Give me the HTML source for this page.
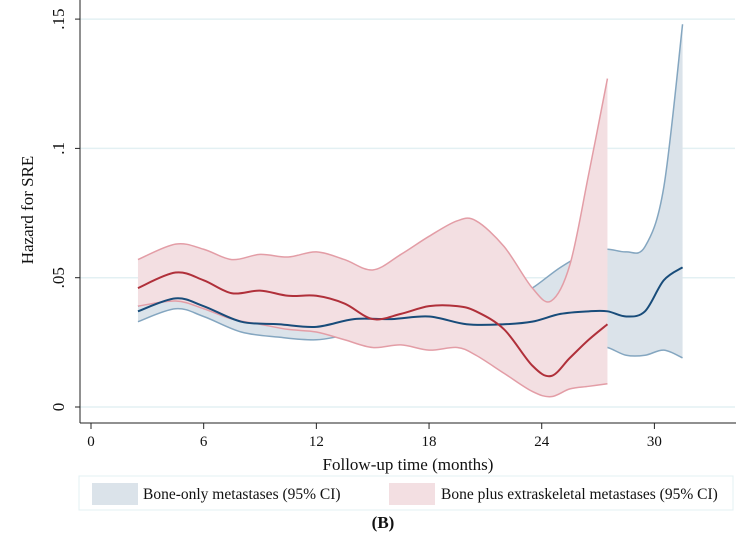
<!DOCTYPE html>
<html><head><meta charset="utf-8"><style>
body{margin:0;background:#fff;font-family:"Liberation Serif",serif}
svg text{font-family:"Liberation Serif",serif;fill:#111}
</style></head><body>
<svg id="c" width="747" height="541"></svg>
<script>
const ticksX=[0,6,12,18,24,30];
const ticksY=[0,0.05,0.1,0.15];
const tickYLabels=["0",".05",".1",".15"];
const blueT=[2.5,4.5,6,8,10,12,14,16,18,20,22,23.5,25,26.5,27.5,28.5,29.5,30.5,31.5];
const blueMean=[0.037,0.042,0.039,0.033,0.032,0.031,0.034,0.034,0.035,0.032,0.032,0.033,0.036,0.037,0.037,0.035,0.037,0.049,0.054];
const blueUp=[0.039,0.043,0.041,0.035,0.034,0.033,0.035,0.036,0.037,0.036,0.040,0.046,0.054,0.060,0.061,0.060,0.062,0.085,0.148];
const blueLo=[0.033,0.038,0.035,0.029,0.027,0.026,0.028,0.027,0.027,0.026,0.026,0.026,0.025,0.024,0.023,0.020,0.020,0.022,0.019];
const redT=[2.5,4.5,6,7.5,9,10.5,12,13.5,15,16.5,18,19.5,20.5,22,23.5,24.5,25.5,26.5,27.5];
const redMean=[0.046,0.052,0.049,0.044,0.045,0.043,0.043,0.040,0.034,0.036,0.039,0.039,0.037,0.030,0.016,0.012,0.019,0.026,0.032];
const redUp=[0.057,0.063,0.061,0.057,0.059,0.058,0.060,0.057,0.053,0.059,0.066,0.072,0.072,0.062,0.046,0.041,0.055,0.090,0.127];
const redLo=[0.039,0.041,0.038,0.034,0.032,0.030,0.029,0.026,0.023,0.024,0.022,0.023,0.020,0.013,0.006,0.004,0.007,0.008,0.009];

const X=t=>91+t*18.78, Y=v=>407-v*2586;
const svg=document.getElementById('c');
const NS='http://www.w3.org/2000/svg';
function mk(tag,attrs,name,parent){const e=document.createElementNS(NS,tag);for(const k in attrs)e.setAttribute(k,attrs[k]);


(parent||svg).appendChild(e);return e;}
function curve(ts,vs,move){let pts=ts.map((t,i)=>[X(t),Y(vs[i])]);let d=(move?'M':'L')+pts[0][0]+','+pts[0][1];
for(let i=0;i<pts.length-1;i++){const p0=pts[i-1]||pts[i],p1=pts[i],p2=pts[i+1],p3=pts[i+2]||p2;
d+=` C${p1[0]+(p2[0]-p0[0])/6},${p1[1]+(p2[1]-p0[1])/6} ${p2[0]-(p3[0]-p1[0])/6},${p2[1]-(p3[1]-p1[1])/6} ${p2[0]},${p2[1]}`;}return d;}
// gridlines
ticksY.forEach((v,i)=>{mk('line',{x1:80,x2:735,y1:Y(v),y2:Y(v),stroke:'#e3f0f3','stroke-width':1.5},'gridline');
mk('line',{x1:75,x2:80,y1:Y(v),y2:Y(v),stroke:'#222'},'y-tick');
const t=mk('text',{x:64,y:Y(v),'font-size':17,'text-anchor':'middle',transform:`rotate(-90 64 ${Y(v)})`},'y-tick-label');t.textContent=tickYLabels[i];});
function band(ts,up,lo,fill,edge,name){const rt=ts.slice().reverse(),rl=lo.slice().reverse();
mk('path',{d:curve(ts,up,true)+curve(rt,rl,false)+'Z',fill:fill},name+'-band');
mk('path',{d:curve(ts,up,true),fill:'none',stroke:edge,'stroke-width':1.5},name+'-upper');
mk('path',{d:curve(ts,lo,true),fill:'none',stroke:edge,'stroke-width':1.5},name+'-lower');}
band(blueT,blueUp,blueLo,'#dbe3ea','#84a6c0','bone-only');
band(redT,redUp,redLo,'#f3dfe2','#e39da6','bone-plus');
mk('path',{d:curve(blueT,blueMean,true),fill:'none',stroke:'#184c7a','stroke-width':2},'bone-only-hazard-line');
mk('path',{d:curve(redT,redMean,true),fill:'none',stroke:'#b0303a','stroke-width':2},'bone-plus-hazard-line');
// axes
mk('line',{x1:80,x2:80,y1:0,y2:423,stroke:'#222'},'y-axis');
mk('line',{x1:80,x2:736,y1:423,y2:423,stroke:'#222'},'x-axis');
ticksX.forEach(t=>{mk('line',{x1:X(t),x2:X(t),y1:423,y2:429,stroke:'#222'},'x-tick');
const e=mk('text',{x:X(t),y:446,'font-size':15,'text-anchor':'middle'},'x-tick-label');e.textContent=t;});
const xt=mk('text',{x:408,y:470,'font-size':17,'text-anchor':'middle'},'x-axis-title');xt.textContent='Follow-up time (months)';
const yt=mk('text',{x:33,y:210,'font-size':17,'text-anchor':'middle',transform:'rotate(-90 33 210)'},'y-axis-title');yt.textContent='Hazard for SRE';
// legend
const lg=mk('g',{},'legend');
mk('rect',{x:79,y:476,width:654,height:34,fill:'#fff',stroke:'#e3f0f3'},'legend-box',lg);
mk('rect',{x:92,y:483,width:46,height:22,fill:'#dbe3ea'},'legend-swatch-bone-only',lg);
let l1=mk('text',{x:143,y:499,'font-size':15.5},'legend-entry-bone-only',lg);l1.textContent='Bone-only metastases (95% CI)';
mk('rect',{x:389,y:483,width:46,height:22,fill:'#f3dfe2'},'legend-swatch-bone-plus',lg);
let l2=mk('text',{x:441,y:499,'font-size':15.5},'legend-entry-bone-plus',lg);l2.textContent='Bone plus extraskeletal metastases (95% CI)';
const b=mk('text',{x:383,y:528,'font-size':17,'font-weight':'bold','text-anchor':'middle'},'panel-label');b.textContent='(B)';
</script>
</body></html>
